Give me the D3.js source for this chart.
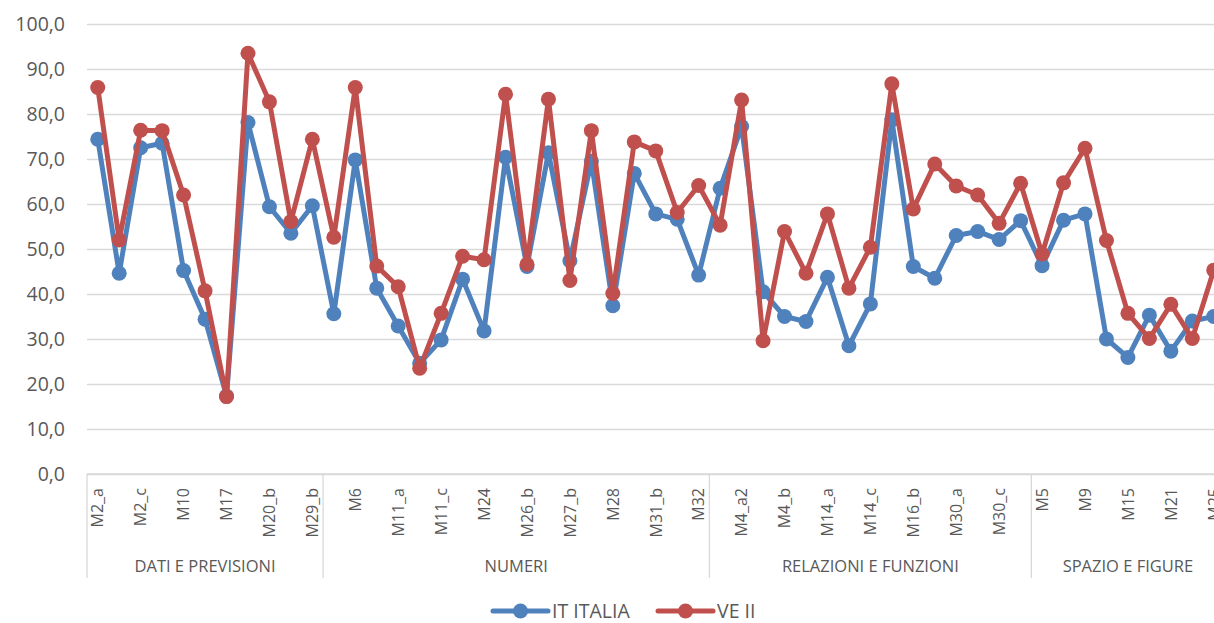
<!DOCTYPE html>
<html>
<head>
<meta charset="utf-8">
<script src="https://cdn.jsdelivr.net/npm/d3@7"></script>
<style>
  html, body { margin: 0; padding: 0; background: #fff; overflow: hidden; }
  svg { display: block; font-family: "Open Sans", sans-serif; }
</style>
</head>
<body>
<div id="chart"></div>
<script>
const WIDTH = 1214;
const HEIGHT = 623;

const categories = [
  "M2_a", "M2_b", "M2_c", "M2_d", "M10", "M13", "M17", "M20_a", "M20_b", "M29_a", "M29_b",
  "M1", "M6", "M8", "M11_a", "M11_b", "M11_c", "M22", "M24", "M26_a", "M26_b", "M27_a", "M27_b", "M27_c", "M28", "M31_a", "M31_b", "M31_c", "M32",
  "M4_a1", "M4_a2", "M4_a3", "M4_b", "M7", "M14_a", "M14_b", "M14_c", "M16_a", "M16_b", "M18", "M30_a", "M30_b", "M30_c", "M33",
  "M5", "M3", "M9", "M12", "M15", "M19", "M21", "M23", "M25"
];

const groups = [
  { name: "DATI E PREVISIONI", count: 11 },
  { name: "NUMERI", count: 18 },
  { name: "RELAZIONI E FUNZIONI", count: 15 },
  { name: "SPAZIO E FIGURE", count: 9 }
];

const italia = [
  74.4, 44.6, 72.5, 73.5, 45.2, 34.4, 17.3, 78.1, 59.4, 53.5, 59.6,
  35.6, 69.8, 41.3, 32.9, 24.6, 29.8, 43.3, 31.8, 70.4, 46.1, 71.4, 47.4, 69.5, 37.4, 66.8, 57.8, 56.6, 44.2,
  63.5, 77.2, 40.5, 35.0, 33.9, 43.7, 28.5, 37.8, 78.7, 46.1, 43.5, 53.0, 53.9, 52.1, 56.3,
  46.3, 56.4, 57.8, 30.0, 25.9, 35.3, 27.3, 34.0, 35.0
];

const veneto = [
  85.9, 52.0, 76.4, 76.3, 62.0, 40.7, 17.2, 93.5, 82.7, 56.1, 74.4,
  52.6, 85.9, 46.2, 41.6, 23.5, 35.7, 48.4, 47.6, 84.4, 46.6, 83.3, 43.0, 76.3, 40.1, 73.8, 71.8, 58.1, 64.1,
  55.3, 83.1, 29.6, 53.9, 44.6, 57.8, 41.3, 50.4, 86.7, 58.9, 68.9, 64.0, 62.0, 55.7, 64.6,
  48.9, 64.7, 72.4, 51.9, 35.7, 30.1, 37.7, 30.1, 45.3
];

const yTicks = [0, 10, 20, 30, 40, 50, 60, 70, 80, 90, 100];

const series = [
  { name: "IT ITALIA", values: italia, color: "#4F81BD" },
  { name: "VE II", values: veneto, color: "#C0504D" }
];

const margin = { left: 87, top: 24, bottom: 474 };
const plotRight = 1224.5;
const GRID = "#d9d9d9";
const TEXT = "#595959";

const svg = d3.select("#chart")
  .append("svg")
  .attr("width", WIDTH)
  .attr("height", HEIGHT);

const x = d3.scaleBand()
  .domain(categories)
  .range([margin.left, plotRight])
  .padding(0);

const y = d3.scaleLinear()
  .domain([0, 100])
  .range([margin.bottom, margin.top]);

const fmt = (v) => d3.format(".1f")(v).replace(".", ",");

// gridlines + y labels
const yAxis = d3.axisLeft(y)
  .tickValues(yTicks)
  .tickSize(-(plotRight - margin.left))
  .tickPadding(22)
  .tickFormat(fmt);

const yG = svg.append("g")
  .attr("transform", `translate(${margin.left},0)`)
  .call(yAxis);
yG.select(".domain").remove();
yG.selectAll(".tick line").attr("stroke", GRID).attr("stroke-width", 1.3);
yG.selectAll(".tick text")
  .attr("fill", TEXT)
  .attr("font-size", 19.5)
  .attr("font-family", "Open Sans, sans-serif");

// category axis
const catAxis = svg.append("g");
catAxis.append("line")
  .attr("x1", margin.left).attr("x2", plotRight)
  .attr("y1", margin.bottom).attr("y2", margin.bottom)
  .attr("stroke", GRID).attr("stroke-width", 1.3);

catAxis.selectAll("text.cat")
  .data(categories.filter((d, i) => i % 2 === 0))
  .join("text")
  .attr("class", "cat")
  .attr("transform", (d) => `translate(${x(d) + x.bandwidth() / 2},488) rotate(-90)`)
  .attr("text-anchor", "end")
  .attr("dy", "0.36em")
  .attr("fill", TEXT)
  .attr("font-size", 16)
  .text((d) => d);

let start = 0;
const groupSpans = groups.map((g) => {
  const span = { name: g.name, from: start, to: start + g.count };
  start += g.count;
  return span;
});

const edgeX = (idx) => idx < categories.length ? x(categories[idx]) : plotRight;

catAxis.selectAll("line.sep")
  .data([0, ...groupSpans.map((g) => g.to)])
  .join("line")
  .attr("class", "sep")
  .attr("x1", (d) => edgeX(d)).attr("x2", (d) => edgeX(d))
  .attr("y1", margin.bottom).attr("y2", 578)
  .attr("stroke", GRID).attr("stroke-width", 1.3);

catAxis.selectAll("text.group")
  .data(groupSpans)
  .join("text")
  .attr("class", "group")
  .attr("x", (d) => (edgeX(d.from) + edgeX(d.to)) / 2)
  .attr("y", 566)
  .attr("dy", "0.35em")
  .attr("text-anchor", "middle")
  .attr("fill", TEXT)
  .attr("font-size", 16.5)
  .text((d) => d.name);

// lines
const line = d3.line()
  .x((d, i) => x(categories[i]) + x.bandwidth() / 2)
  .y((d) => y(d));

const lines = svg.append("g");
series.forEach((s) => {
  const g = lines.append("g");
  g.append("path")
    .datum(s.values)
    .attr("fill", "none")
    .attr("stroke", s.color)
    .attr("stroke-width", 5)
    .attr("stroke-linejoin", "round")
    .attr("d", line);
  g.selectAll("circle")
    .data(s.values)
    .join("circle")
    .attr("cx", (d, i) => x(categories[i]) + x.bandwidth() / 2)
    .attr("cy", (d) => y(d))
    .attr("r", 7.5)
    .attr("fill", s.color);
});

// legend
const legendItems = [
  { s: series[0], x0: 493 },
  { s: series[1], x0: 658 }
];
const legend = svg.append("g").attr("transform", "translate(0,611)");
legendItems.forEach(({ s, x0 }) => {
  legend.append("line")
    .attr("x1", x0).attr("x2", x0 + 55)
    .attr("stroke", s.color).attr("stroke-width", 5)
    .attr("stroke-linecap", "round");
  legend.append("circle")
    .attr("cx", x0 + 27.5).attr("r", 7.5)
    .attr("fill", s.color);
  legend.append("text")
    .attr("x", x0 + 59)
    .attr("dy", "0.35em")
    .attr("fill", TEXT)
    .attr("font-size", 19.5)
    .text(s.name);
});
</script>
</body>
</html>
